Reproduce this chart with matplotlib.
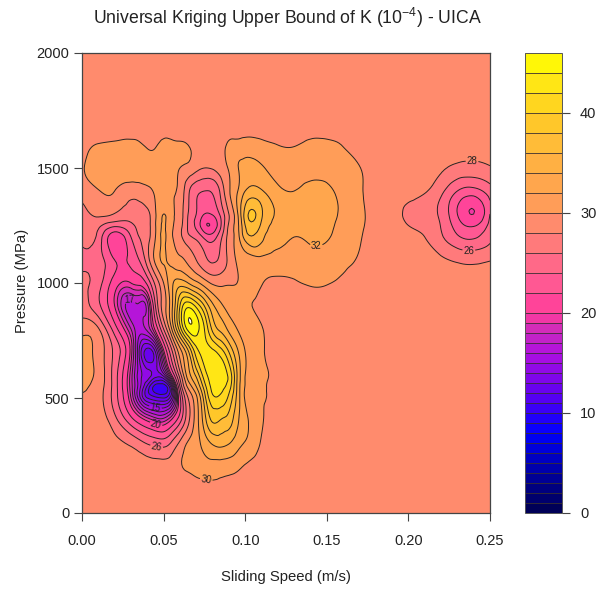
import numpy as np
import matplotlib
matplotlib.use("Agg")
import matplotlib.pyplot as plt
from matplotlib.colors import ListedColormap, BoundaryNorm, LinearSegmentedColormap
from matplotlib.tri import Triangulation, UniformTriRefiner

plt.rcParams['font.family'] = ['Liberation Sans', 'DejaVu Sans']
plt.rcParams['mathtext.fontset'] = 'custom'
plt.rcParams['mathtext.rm'] = 'Liberation Sans'
plt.rcParams['mathtext.default'] = 'regular'

speed = [0, .01, .02, .03, .035, .04, .045, .05, .055, .06, .065, .07, .075, .08, .085, .09, .095, .10,
         .11, .12, .13, .14, .15, .16, .17, .18, .19, .20, .21, .22, .23, .24, .25]
pressure = [0, 100, 200, 300, 400, 500, 550, 600, 700, 800, 900, 1000, 1100, 1200, 1250, 1300, 1400, 1500, 1600, 1700, 2000]

k_p0000 = [29] * 33
k_p0100 = [29, 29, 29, 29, 29, 29, 29, 29, 29, 29, 29, 29.2, 29.4, 29.4, 29.4, 29.3, 29.1, 29, 29, 29, 29, 29, 29, 29, 29, 29, 29, 29, 29, 29, 29, 29, 29]
k_p0200 = [29, 29, 29, 28.9, 28.8, 28.8, 28.7, 28.7, 28.9, 29.8, 30.3, 30.7, 31, 31.2, 31, 30.8, 30.4, 29.8, 29.1, 29, 29, 29, 29, 29, 29, 29, 29, 29, 29, 29, 29, 29, 29]
k_p0300 = [29, 29, 28.6, 27.7, 26.9, 26, 25.5, 25.3, 26.5, 28.5, 30.3, 31.3, 32.8, 34.1, 34.5, 34, 32.8, 31.8, 29.8, 29, 29, 29, 29, 29, 29, 29, 29, 29, 29, 29, 29, 29, 29]
k_p0400 = [29, 29, 26.8, 23, 21.3, 20, 19, 18.8, 20.5, 23.5, 27.5, 31, 35, 38.2, 37.8, 37, 34.5, 32.5, 30.2, 29, 29, 29, 29, 29, 29, 29, 29, 29, 29, 29, 29, 29, 29]
k_p0500 = [29.7, 28.8, 25, 19, 15.5, 13, 12.3, 12, 14, 21.5, 28, 31.5, 37, 41.5, 41.5, 39.5, 35.5, 31.8, 30.3, 29.1, 29, 29, 29, 29, 29, 29, 29, 29, 29, 29, 29, 29, 29]
k_p0550 = [30.4, 29, 25, 18.5, 15.5, 12.8, 10.6, 10.5, 14, 24, 30.5, 34, 39, 42.5, 42.5, 41, 35.8, 31.9, 30.3, 29.1, 29, 29, 29, 29, 29, 29, 29, 29, 29, 29, 29, 29, 29]
k_p0600 = [31, 29.3, 25, 18.5, 15.5, 14.5, 13.5, 14.5, 20, 27, 33, 36.5, 41, 43, 42.8, 41.5, 36, 32, 30.3, 29.2, 29, 29, 29, 29, 29, 29, 29, 29, 29, 29, 29, 29, 29]
k_p0700 = [31, 29.2, 25.5, 19.5, 15, 12.5, 14, 19.5, 25.5, 31, 35.5, 41, 42.5, 42.5, 41, 38, 34.5, 32, 30.2, 29, 29, 29, 29, 29, 29, 29, 29, 29, 29, 29, 29, 29, 29]
k_p0800 = [29.3, 28.2, 23, 18, 16.5, 17.3, 20.5, 26, 32, 39, 44.6, 44.8, 42, 37.5, 35.5, 33.5, 32, 31, 30.1, 29, 29, 29, 29, 29, 29, 29, 29, 29, 29, 29, 29, 29, 29]
k_p0900 = [27, 24.5, 20, 16.5, 16.8, 17.5, 24, 29, 33.5, 40, 43.5, 41.5, 38, 34.5, 32.5, 31.3, 30.8, 30.3, 29.6, 29, 29, 29, 29, 29, 29, 29, 29, 29, 29, 29, 29, 29, 29]
k_p1000 = [26.5, 24.8, 21, 20, 20.5, 22.5, 26.5, 30, 33.5, 35, 34, 32.5, 31, 29.7, 29.5, 29.8, 30, 30.5, 30.1, 29.6, 29.8, 30.2, 30.1, 29.7, 29.2, 29, 29, 29, 29, 29, 29, 28.9, 29]
k_p1100 = [25.5, 25, 22, 22.5, 24, 27, 30.5, 32.2, 31.3, 30.4, 29.5, 28, 26.5, 25.7, 26.5, 28.5, 30.2, 31, 31.5, 31.2, 31, 31.3, 31, 30.4, 29.8, 29, 29, 29, 29, 28.4, 27.7, 27.5, 27.9]
k_p1200 = [26.7, 25.3, 20.8, 24, 26, 27.3, 30, 32.3, 30.3, 28.5, 26.5, 25.5, 23.5, 23, 25.5, 28.7, 31, 34.8, 34.5, 32.8, 32, 32.3, 32.2, 31.2, 30.2, 29.2, 29, 28.6, 28, 26.3, 24.3, 23.7, 25.5]
k_p1250 = [26.8, 26.5, 24.5, 25.5, 26.6, 27.4, 29.9, 32.2, 30.4, 28.7, 25.8, 23.5, 20.5, 20.5, 23.8, 28.3, 31.2, 36, 35.6, 33.4, 32.6, 32.6, 32.4, 31.5, 30.4, 29.3, 28.9, 28, 27.4, 25.9, 23, 21.8, 24.7]
k_p1300 = [27, 28.4, 27.9, 27, 27.2, 27.6, 29.8, 32, 30.5, 29, 26, 24, 22, 22.2, 24.5, 28, 31.5, 36.8, 36.3, 33.8, 33, 32.8, 32.5, 31.7, 30.5, 29.3, 28.8, 27.5, 27, 25.5, 22, 20, 24]
k_p1400 = [29, 29.9, 30, 28.8, 29, 29.5, 30.3, 30.8, 30.3, 29.3, 26.5, 24.5, 24, 24.2, 26.5, 29.7, 31.8, 34, 34.2, 32.5, 32, 32.5, 32.3, 31.5, 30.3, 29.2, 29, 28.8, 28.2, 26.5, 24, 23.2, 25]
k_p1500 = [29.8, 31, 31.3, 31.5, 31.2, 31, 31, 31.3, 30.9, 30, 29.5, 28.6, 28, 28.2, 29, 30.2, 31.8, 32.5, 32.2, 31.3, 31.2, 31.4, 31.4, 31, 30.1, 29, 29, 29, 29, 28.3, 27.5, 27.3, 27.8]
k_p1600 = [29.3, 30.1, 30.3, 30.5, 30.3, 29.7, 29.8, 30.5, 30.4, 30.2, 30, 29.5, 29.1, 29, 29.3, 30.3, 30.6, 30.8, 30.5, 30, 29.9, 30.4, 30.4, 29.9, 29, 29, 29, 29, 29, 29, 29, 28.9, 29]
k_p1700 = [29] * 33
k_p2000 = [29] * 33

k_rows = [k_p0000, k_p0100, k_p0200, k_p0300, k_p0400, k_p0500, k_p0550, k_p0600, k_p0700, k_p0800, k_p0900,
          k_p1000, k_p1100, k_p1200, k_p1250, k_p1300, k_p1400, k_p1500, k_p1600, k_p1700, k_p2000]

levels = list(range(0, 20)) + list(range(20, 48, 2))
x_ticks = [0, 0.05, 0.10, 0.15, 0.20, 0.25]
y_ticks = [0, 500, 1000, 1500, 2000]
bar_ticks = [0, 10, 20, 30, 40]
palette_values = [0, 4, 8, 12, 16, 18, 20, 24, 29, 31, 34, 37, 40, 44, 46]
palette_colors = ['#000050', '#0000A0', '#0000FF', '#6000F0', '#B010E0', '#C828C0', '#FF3C9C',
                  '#FF6090', '#FF8B6D', '#FF9D58', '#FFAA48', '#FFBC38', '#FFCC25', '#FFEE10', '#FFFF00']
contour_labels = {26: [(0.0455, 282), (0.2370, 1130)], 20: [(0.0455, 388)], 15: [(0.0455, 470)],
                  30: [(0.076, 140)], 32: [(0.1435, 1168)], 28: [(0.2390, 1530)], 17: [(0.0295, 940)]}

W, H = 610, 592
fig = plt.figure(figsize=(W / 100, H / 100), dpi=100)
ax = fig.add_axes([82 / W, 1 - 513 / H, 408 / W, 460 / H])
cax = fig.add_axes([525 / W, 1 - 513 / H, 37 / W, 460 / H])

nx, ny = len(speed), len(pressure)
xx, yy = np.meshgrid(speed, pressure)
zz = np.array(k_rows, dtype=float)
tris = []
for j in range(ny - 1):
    for i in range(nx - 1):
        a, b, c, d = j * nx + i, j * nx + i + 1, (j + 1) * nx + i, (j + 1) * nx + i + 1
        tris += [[a, b, c], [b, d, c]]
tri = Triangulation(xx.ravel(), yy.ravel(), np.array(tris))
fine_tri, fine_z = UniformTriRefiner(tri).refine_field(zz.ravel(), subdiv=3)

anchor = LinearSegmentedColormap.from_list('k', [(v / 46, c) for v, c in zip(palette_values, palette_colors)])
mids = [(a + b) / 2 / 46 for a, b in zip(levels[:-1], levels[1:])]
cmap = ListedColormap([anchor(m) for m in mids])
norm = BoundaryNorm(levels, cmap.N)

cf = ax.tricontourf(fine_tri, fine_z, levels=levels, cmap=cmap, norm=norm)
plain = [l for l in levels if l not in contour_labels]
line_style = dict(colors='#2a2226', linewidths=0.7)
ax.tricontour(fine_tri, fine_z, levels=plain, **line_style)
for lev, places in contour_labels.items():
    one = ax.tricontour(fine_tri, fine_z, levels=[lev], **line_style)
    ax.clabel(one, manual=places, fmt='%d', fontsize=7, colors='#222222', inline=True, inline_spacing=1)

ax.set_xlim(0, 0.25)
ax.set_ylim(0, 2000)
ax.set_xticks(x_ticks, ['%.2f' % t for t in x_ticks])
ax.set_yticks(y_ticks, [str(t) for t in y_ticks])
ax.tick_params(length=6, width=0.8, color='#444444', labelsize=10.5, labelcolor='#222222')
ax.tick_params(axis='x', pad=9)
ax.tick_params(axis='y', pad=3)
for s in ax.spines.values():
    s.set_color('#444444')
    s.set_linewidth(0.9)

ax.set_xlabel('Sliding Speed (m/s)', fontsize=10.7, color='#222222', labelpad=16)
fig.text(22 / W, 1 - 281 / H, 'Pressure (MPa)', rotation=90, ha='center', va='center', fontsize=10.7, color='#222222')
fig.text(287 / W, 1 - 18 / H, 'Universal Kriging Upper Bound of K (10$^{-4}$) - UICA', ha='center', va='center', fontsize=12.7, color='#222222')

cb = fig.colorbar(cf, cax=cax, ticks=bar_ticks, spacing='proportional', drawedges=True)
cb.dividers.set_color('#3a3030')
cb.dividers.set_linewidth(0.6)
cb.outline.set_edgecolor('#555555')
cb.outline.set_linewidth(0.7)
cb.ax.tick_params(length=6, width=0.8, color='#444444', labelsize=10.5, labelcolor='#222222', pad=7)
cb.ax.minorticks_off()

fig.savefig('out.png', dpi=100)
